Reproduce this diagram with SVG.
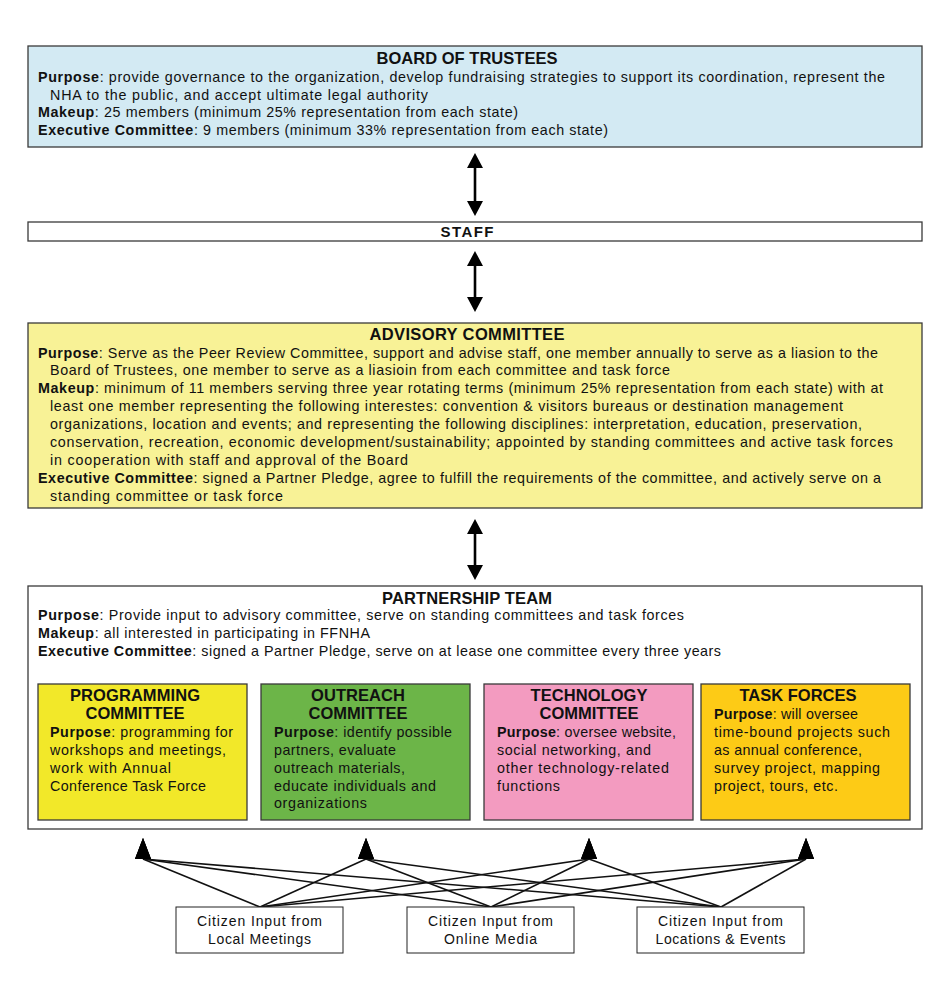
<svg xmlns="http://www.w3.org/2000/svg" width="950" height="1000" viewBox="0 0 950 1000">
<defs>
<style>
text{font-family:"Liberation Sans",Arial,sans-serif;fill:#111;}
.t{font-size:16.5px;font-weight:bold;text-anchor:middle;}
.b{font-size:14.3px;}
.b tspan.k{font-weight:bold;}
.c{font-size:14px;text-anchor:middle;}
.box{stroke:#3a3a3a;stroke-width:1.3;}
.cn{stroke:#111;stroke-width:1.6;fill:none;}
.dbl{stroke:#000;stroke-width:2.6;fill:none;marker-start:url(#ah);marker-end:url(#ah);}
.up{marker-start:url(#tri);}
</style>
<marker id="ah" viewBox="0 -8 15 16" refX="1" refY="0" markerWidth="15" markerHeight="16" markerUnits="userSpaceOnUse" orient="auto-start-reverse">
<path d="M0,-8 L15,0 L0,8 z" fill="#000"/>
</marker>
<marker id="tri" viewBox="0 -8 21 16" refX="0" refY="0" markerWidth="21" markerHeight="16" markerUnits="userSpaceOnUse" orient="270">
<path d="M0,-8 L21,0 L0,8 z" fill="#000"/>
</marker>
</defs>
<rect width="950" height="1000" fill="#fff"/>

<g id="connectors">
<path class="dbl" d="M475,167 V202"/>
<path class="dbl" d="M475,265 V298"/>
<path class="dbl" d="M475,533 V566"/>
<path class="cn up" d="M143,859 L260,907"/>
<path class="cn up" d="M143,859 L491,907"/>
<path class="cn up" d="M143,859 L721,907"/>
<path class="cn up" d="M366,859 L260,907"/>
<path class="cn up" d="M366,859 L491,907"/>
<path class="cn up" d="M366,859 L721,907"/>
<path class="cn up" d="M589,859 L260,907"/>
<path class="cn up" d="M589,859 L491,907"/>
<path class="cn up" d="M589,859 L721,907"/>
<path class="cn up" d="M806,859 L260,907"/>
<path class="cn up" d="M806,859 L491,907"/>
<path class="cn up" d="M806,859 L721,907"/>
</g>

<g id="board">
<rect class="box" x="28" y="46" width="894" height="101" fill="#d3eaf3"/>
<text class="t" x="467" y="64" textLength="181">BOARD OF TRUSTEES</text>
<text class="b" x="38" y="82" textLength="847"><tspan class="k">Purpose</tspan>: provide governance to the organization, develop fundraising strategies to support its coordination, represent the</text>
<text class="b" x="50" y="99.5" textLength="378">NHA to the public, and accept ultimate legal authority</text>
<text class="b" x="38" y="117" textLength="480"><tspan class="k">Makeup</tspan>: 25 members (minimum 25% representation from each state)</text>
<text class="b" x="38" y="135" textLength="570"><tspan class="k">Executive Committee</tspan>: 9 members (minimum 33% representation from each state)</text>
</g>

<g id="staff">
<rect class="box" x="28" y="222" width="894" height="19" fill="#fff"/>
<text class="t" x="467" y="237" textLength="53" style="font-size:15px">STAFF</text>
</g>

<g id="advisory">
<rect class="box" x="28" y="323" width="894" height="185" fill="#f8f296"/>
<text class="t" x="467" y="340" textLength="195">ADVISORY COMMITTEE</text>
<text class="b" x="38" y="357.5" textLength="840"><tspan class="k">Purpose</tspan>: Serve as the Peer Review Committee, support and advise staff, one member annually to serve as a liasion to the</text>
<text class="b" x="50" y="375" textLength="620">Board of Trustees, one member to serve as a liasioin from each committee and task force</text>
<text class="b" x="38" y="393" textLength="845"><tspan class="k">Makeup</tspan>: minimum of 11 members serving three year rotating terms (minimum 25% representation from each state) with at</text>
<text class="b" x="50" y="411" textLength="793">least one member representing the following interestes: convention &amp; visitors bureaus or destination management</text>
<text class="b" x="50" y="429" textLength="812">organizations, location and events; and representing the following disciplines: interpretation, education, preservation,</text>
<text class="b" x="50" y="447" textLength="843">conservation, recreation, economic development/sustainability; appointed by standing committees and active task forces</text>
<text class="b" x="50" y="465" textLength="358">in cooperation with staff and approval of the Board</text>
<text class="b" x="38" y="483" textLength="843"><tspan class="k">Executive Committee</tspan>: signed a Partner Pledge, agree to fulfill the requirements of the committee, and actively serve on a</text>
<text class="b" x="50" y="501" textLength="233">standing committee or task force</text>
</g>

<g id="partnership">
<rect class="box" x="28" y="586" width="894" height="243" fill="#fff"/>
<text class="t" x="467" y="604" textLength="170">PARTNERSHIP TEAM</text>
<text class="b" x="38" y="620" textLength="646"><tspan class="k">Purpose</tspan>: Provide input to advisory committee, serve on standing committees and task forces</text>
<text class="b" x="38" y="638" textLength="332"><tspan class="k">Makeup</tspan>: all interested in participating in FFNHA</text>
<text class="b" x="38" y="656" textLength="683"><tspan class="k">Executive Committee</tspan>: signed a Partner Pledge, serve on at lease one committee every three years</text>
</g>

<g id="programming">
<rect class="box" x="38" y="684" width="209" height="136" fill="#f2e829"/>
<text class="t" x="135" y="701" textLength="130">PROGRAMMING</text>
<text class="t" x="135" y="719" textLength="99">COMMITTEE</text>
<text class="b" x="50" y="737" textLength="183"><tspan class="k">Purpose</tspan>: programming for</text>
<text class="b" x="50" y="755" textLength="176">workshops and meetings,</text>
<text class="b" x="50" y="773" textLength="121">work with Annual</text>
<text class="b" x="50" y="791" textLength="156">Conference Task Force</text>
</g>

<g id="outreach">
<rect class="box" x="261" y="684" width="209" height="136" fill="#6cb548"/>
<text class="t" x="358" y="701" textLength="94">OUTREACH</text>
<text class="t" x="358" y="719" textLength="99">COMMITTEE</text>
<text class="b" x="274" y="737" textLength="178"><tspan class="k">Purpose</tspan>: identify possible</text>
<text class="b" x="274" y="755" textLength="122">partners, evaluate</text>
<text class="b" x="274" y="773" textLength="131">outreach materials,</text>
<text class="b" x="274" y="791" textLength="162">educate individuals and</text>
<text class="b" x="274" y="808" textLength="93">organizations</text>
</g>

<g id="technology">
<rect class="box" x="484" y="684" width="209" height="136" fill="#f39bc0"/>
<text class="t" x="589" y="701" textLength="117">TECHNOLOGY</text>
<text class="t" x="589" y="719" textLength="99">COMMITTEE</text>
<text class="b" x="497" y="737" textLength="179"><tspan class="k">Purpose</tspan>: oversee website,</text>
<text class="b" x="497" y="755" textLength="154">social networking, and</text>
<text class="b" x="497" y="773" textLength="172">other technology-related</text>
<text class="b" x="497" y="791" textLength="63">functions</text>
</g>

<g id="taskforces">
<rect class="box" x="701" y="684" width="209" height="136" fill="#fdcb16"/>
<text class="t" x="798" y="701" textLength="117">TASK FORCES</text>
<text class="b" x="714" y="719" textLength="144"><tspan class="k">Purpose</tspan>: will oversee</text>
<text class="b" x="714" y="737" textLength="176">time-bound projects such</text>
<text class="b" x="714" y="755" textLength="148">as annual conference,</text>
<text class="b" x="714" y="773" textLength="166">survey project, mapping</text>
<text class="b" x="714" y="791" textLength="124">project, tours, etc.</text>
</g>

<g id="input-local">
<rect x="176" y="907" width="167" height="46" fill="#fff" stroke="#222" stroke-width="1"/>
<text class="c" x="259.5" y="926" textLength="125">Citizen Input from</text>
<text class="c" x="259.5" y="944" textLength="103">Local Meetings</text>
</g>

<g id="input-online">
<rect x="407" y="907" width="167" height="46" fill="#fff" stroke="#222" stroke-width="1"/>
<text class="c" x="490.5" y="926" textLength="125">Citizen Input from</text>
<text class="c" x="490.5" y="944" textLength="93">Online Media</text>
</g>

<g id="input-locations">
<rect x="637" y="907" width="167" height="46" fill="#fff" stroke="#222" stroke-width="1"/>
<text class="c" x="720.5" y="926" textLength="125">Citizen Input from</text>
<text class="c" x="720.5" y="944" textLength="130">Locations &amp; Events</text>
</g>
</svg>
